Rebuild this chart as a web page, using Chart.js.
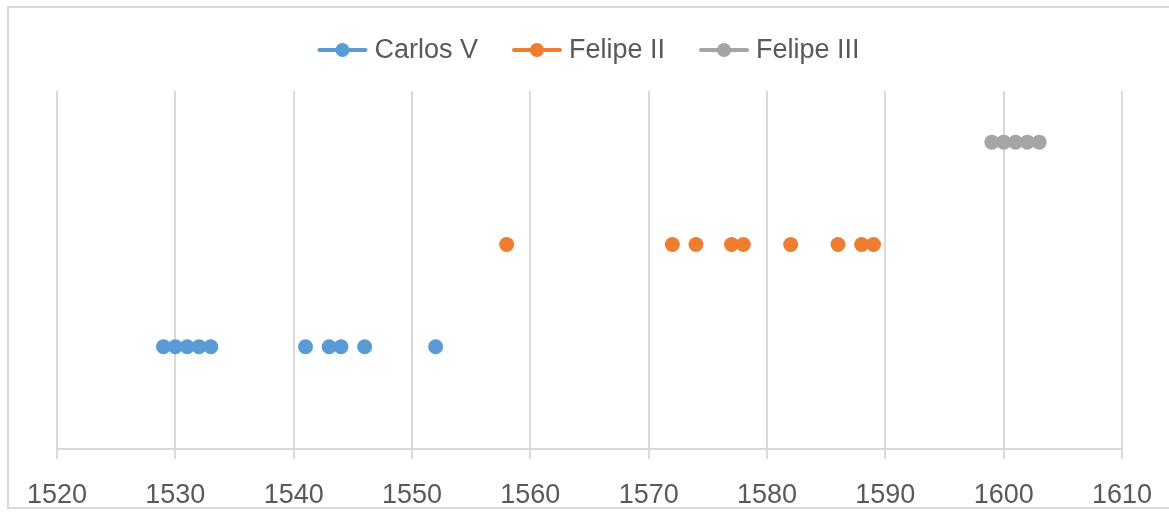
<!DOCTYPE html>
<html>
<head>
<meta charset="utf-8">
<script src="https://cdn.jsdelivr.net/npm/chart.js@4/dist/chart.umd.min.js"></script>
<style>
  html, body { margin: 0; padding: 0; background: #fff; }
  #wrap { position: relative; width: 1169px; height: 513px; overflow: hidden; }
  #frame { position: absolute; left: 7px; top: 6px; width: 1180px; height: 503px; border: 2px solid #D9D9D9; box-sizing: border-box; }
  canvas { position: absolute; left: 0; top: 0; }
</style>
</head>
<body>
<div id="wrap">
  <div id="frame"></div>
  <canvas id="reyesChart" width="1169" height="513"></canvas>
</div>
<script>
// Years, one row per king
const carlosYears = [1529, 1530, 1531, 1532, 1533, 1541, 1543, 1544, 1546, 1552];
const felipe2Years = [1558, 1572, 1574, 1577, 1578, 1582, 1586, 1588, 1589];
const felipe3Years = [1599, 1600, 1601, 1602, 1603];
const seriesNames = ['Carlos V', 'Felipe II', 'Felipe III'];
const seriesRows = [1, 2, 3];
const seriesColors = ['#5B9BD5', '#ED7D31', '#A5A5A5'];

const textColor = '#595959';
const gridColor = '#D9D9D9';
const fontFamily = '"Liberation Sans", Arial, sans-serif';

function toPoints(years, row) {
  return years.map(y => ({ x: y, y: row }));
}

// Legend drawn by hand: line + marker + label, centred at the top
const lineLegend = {
  id: 'lineLegend',
  afterDraw(chart) {
    const ctx = chart.ctx;
    ctx.save();
    ctx.font = '27px ' + fontFamily;
    ctx.textBaseline = 'middle';
    const lineW = 46, gapText = 9, gapItem = 36;
    const items = chart.data.datasets.map(ds => ({
      label: ds.label, color: ds.backgroundColor, w: lineW + gapText + ctx.measureText(ds.label).width
    }));
    const total = items.reduce((s, it) => s + it.w, 0) + gapItem * (items.length - 1);
    let x = chart.width / 2 - total / 2 + 5;
    const y = 50;
    items.forEach(it => {
      ctx.strokeStyle = it.color;
      ctx.lineWidth = 4;
      ctx.lineCap = 'round';
      ctx.beginPath();
      ctx.moveTo(x, y);
      ctx.lineTo(x + lineW, y);
      ctx.stroke();
      ctx.fillStyle = it.color;
      ctx.beginPath();
      ctx.arc(x + lineW / 2, y, 7, 0, Math.PI * 2);
      ctx.fill();
      ctx.fillStyle = textColor;
      ctx.fillText(it.label, x + lineW + gapText, y + 1);
      x += it.w + gapItem;
    });
    ctx.restore();
  }
};

const yearsBySeries = [carlosYears, felipe2Years, felipe3Years];

new Chart(document.getElementById('reyesChart'), {
  type: 'scatter',
  data: {
    datasets: seriesNames.map((name, i) => ({
      label: name,
      data: toPoints(yearsBySeries[i], seriesRows[i]),
      backgroundColor: seriesColors[i],
      borderColor: seriesColors[i],
      pointRadius: 7.5,
      pointHoverRadius: 7.5,
      borderWidth: 0,
      showLine: false
    }))
  },
  options: {
    responsive: false,
    animation: false,
    layout: { padding: { top: 91, left: 57, right: 47, bottom: 0 } },
    plugins: {
      legend: { display: false },
      tooltip: { enabled: false }
    },
    scales: {
      x: {
        type: 'linear',
        min: 1520,
        max: 1610,
        afterFit: scale => {
          scale.height = 64;
          scale.paddingLeft = 0;
          scale.paddingRight = 0;
        },
        ticks: {
          stepSize: 10,
          color: textColor,
          font: { family: fontFamily, size: 27 },
          padding: 20,
          maxRotation: 0,
          callback: v => String(v)
        },
        grid: { color: gridColor, lineWidth: 2, tickLength: 10 },
        border: { color: gridColor, width: 2 }
      },
      y: {
        display: false,
        min: 0,
        max: 3.5
      }
    }
  },
  plugins: [lineLegend]
});
</script>
</body>
</html>
